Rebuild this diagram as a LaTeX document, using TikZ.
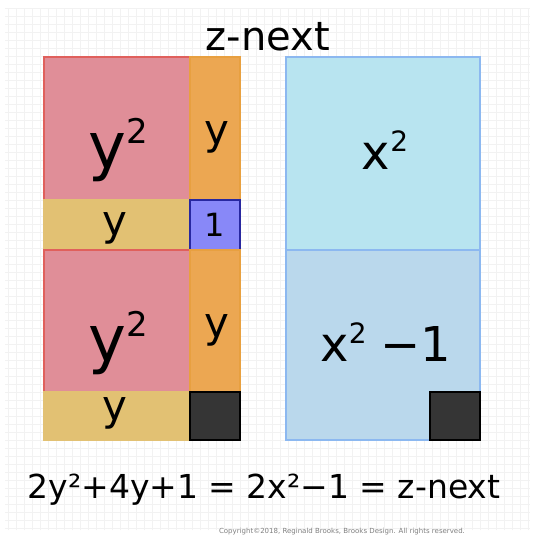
\documentclass[tikz,border=0pt]{standalone}
\usepackage{fontspec}
\setmainfont{DejaVu Sans}
\definecolor{redfill}{HTML}{E08E98}
\definecolor{redline}{HTML}{E0605C}
\definecolor{orfill}{HTML}{ECA752}
\definecolor{orline}{HTML}{E8A040}
\definecolor{yefill}{HTML}{E2C173}
\definecolor{bluefill}{HTML}{8888F8}
\definecolor{blueline}{HTML}{2828A0}
\definecolor{cyfill}{HTML}{B8E4F0}
\definecolor{lbfill}{HTML}{BAD8EC}
\definecolor{lbline}{HTML}{8CB8F0}
\definecolor{darkfill}{HTML}{353535}
\definecolor{gridc}{HTML}{F2F2F2}
\newcommand{\sqr}[1]{\raisebox{0.38em}{\fontsize{#1}{#1}\selectfont 2}}
\begin{document}
\begin{tikzpicture}[x=1pt,y=-1pt,
  tile/.style={draw, line width=1.2pt, inner sep=0pt, outer sep=0pt},
  big/.style={font=\fontsize{64}{64}\selectfont},
  mid/.style={font=\fontsize{48}{48}\selectfont},
  small/.style={font=\fontsize{42}{42}\selectfont}]
\useasboundingbox (0,0) rectangle (537,538);
\fill[white] (0,0) rectangle (537,538);
\draw[gridc, line width=0.5pt, step=8pt] (5,8) grid (530,530);
% left block
\node[tile, fill=redfill, draw=redline, minimum width=146pt, minimum height=143pt] (r1) at (117,128.5) {};
\node[tile, fill=orfill, draw=orline, minimum width=50pt, minimum height=143pt] (o1) at (215,128.5) {};
\node[tile, fill=yefill, draw=yefill, minimum width=146pt, minimum height=50pt] (y1) at (117,225) {};
\node[tile, fill=bluefill, draw=blueline, minimum width=50pt, minimum height=50pt] (one) at (215,225) {};
\node[tile, fill=redfill, draw=redline, minimum width=146pt, minimum height=142pt] (r2) at (117,321) {};
\node[tile, fill=orfill, draw=orline, minimum width=50pt, minimum height=142pt] (o2) at (215,321) {};
\node[tile, fill=yefill, draw=yefill, minimum width=146pt, minimum height=48pt] (y2) at (117,416) {};
\node[tile, fill=darkfill, draw=black, minimum width=50pt, minimum height=48pt] (d1) at (215,416) {};
% right block
\node[tile, fill=cyfill, draw=lbline, minimum width=194pt, minimum height=193pt] (c1) at (383,153.5) {};
\node[tile, fill=lbfill, draw=lbline, minimum width=194pt, minimum height=190pt] (c2) at (383,345) {};
\node[tile, fill=darkfill, draw=black, minimum width=50pt, minimum height=48pt] (d2) at (455,416) {};
% labels
\node[big] (lr1) at (118,150) {y\sqr{34}};
\node[big] (lr2) at (118,343) {y\sqr{34}};
\node[small] (lo1) at (217,137) {y};
\node[small] (lo2) at (217,330) {y};
\node[small] (ly1) at (115,228) {y};
\node[small] (ly2) at (115,413) {y};
\node[font=\fontsize{32}{32}\selectfont] (lone) at (one.center) {1};
\node[mid] (lc1) at (385,150) {x\sqr{28}};
\node[mid] (lc2) at (386,342) {x\sqr{28}\hspace{14pt}−1};
% title and equation
\node[font=\fontsize{40}{40}\selectfont] (title) at (268,37) {z-next};
\node[font=\fontsize{33}{33}\selectfont] (eq) at (264,490) {2y²+4y+1 = 2x²−1 = z-next};
\node[font=\fontsize{7}{8}\selectfont, text=gray] (copy) at (342,532) {Copyright©2018, Reginald Brooks, Brooks Design. All rights reserved.};
\end{tikzpicture}
\end{document}
